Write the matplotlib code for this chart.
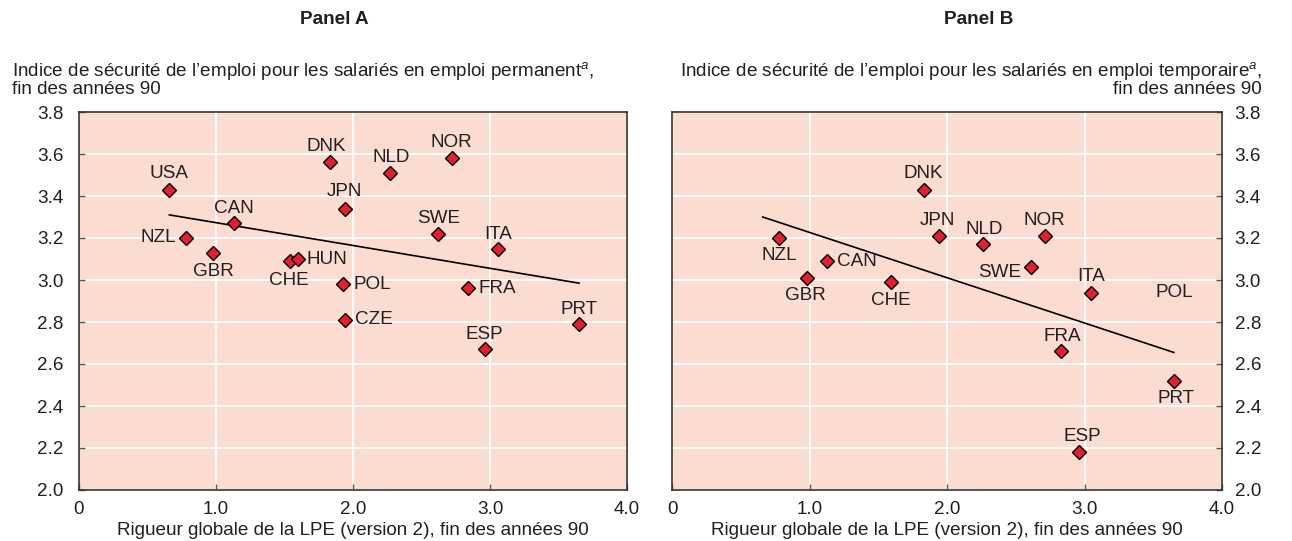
import numpy as np
import matplotlib
matplotlib.use("Agg")
import matplotlib.pyplot as plt

plt.rcParams['font.family'] = ['Liberation Sans', 'DejaVu Sans']
plt.rcParams['mathtext.fontset'] = 'custom'
plt.rcParams['mathtext.rm'] = 'Liberation Sans'
plt.rcParams['mathtext.it'] = 'Liberation Sans:italic'

# ---- data ----
countries_a = ["USA", "NZL", "GBR", "CAN", "CHE", "HUN", "DNK", "JPN", "POL",
               "CZE", "NLD", "NOR", "SWE", "ITA", "FRA", "ESP", "PRT"]
epl_a = [0.66, 0.78, 0.98, 1.13, 1.54, 1.60, 1.83, 1.94, 1.93,
         1.94, 2.27, 2.72, 2.62, 3.06, 2.84, 2.96, 3.65]
secu_a = [3.43, 3.20, 3.13, 3.27, 3.09, 3.10, 3.56, 3.34, 2.98,
          2.81, 3.51, 3.58, 3.22, 3.15, 2.96, 2.67, 2.79]
trend_a_x = [0.66, 3.65]
trend_a_y = [3.31, 2.985]

countries_b = ["NZL", "GBR", "CAN", "CHE", "DNK", "JPN", "NLD", "NOR",
               "SWE", "ITA", "FRA", "PRT", "ESP"]
epl_b = [0.78, 0.98, 1.13, 1.59, 1.83, 1.94, 2.26, 2.71,
         2.61, 3.05, 2.83, 3.65, 2.96]
secu_b = [3.20, 3.01, 3.09, 2.99, 3.43, 3.21, 3.17, 3.21,
          3.06, 2.94, 2.66, 2.52, 2.18]
trend_b_x = [0.66, 3.65]
trend_b_y = [3.30, 2.655]
pol_b_label = (3.65, 2.94)   # label shown without a marker in panel B

x_ticks = [0, 1, 2, 3, 4]
x_ticklabels = ["0", "1.0", "2.0", "3.0", "4.0"]
y_ticks = [2.0, 2.2, 2.4, 2.6, 2.8, 3.0, 3.2, 3.4, 3.6, 3.8]

# label placement (pixel offsets, ha)
up, down = (0, 16), (0, -19)
lab_a = {"USA": (up, 'center'), "NZL": ((-10, 0), 'right'), "GBR": (down, 'center'),
         "CAN": ((0, 15), 'center'), "CHE": ((-1, -19), 'center'), "HUN": ((8, 0), 'left'),
         "DNK": ((-3, 16), 'center'), "JPN": ((0, 17), 'center'), "POL": ((10, 0), 'left'),
         "CZE": ((10, 0), 'left'), "NLD": ((1, 15), 'center'), "NOR": (up, 'center'),
         "SWE": ((1, 15), 'center'), "ITA": ((0, 14), 'center'), "FRA": ((10, 0), 'left'),
         "ESP": ((0, 15), 'center'), "PRT": ((0, 15), 'center')}
lab_b = {"NZL": ((0, -18), 'center'), "GBR": ((-1, -18), 'center'), "CAN": ((10, 0), 'left'),
         "CHE": ((0, -18), 'center'), "DNK": ((0, 16), 'center'), "JPN": ((-1, 15), 'center'),
         "NLD": ((1, 15), 'center'), "NOR": ((0, 15), 'center'), "SWE": ((-10, -5), 'right'),
         "ITA": ((0, 16), 'center'), "FRA": ((1, 15), 'center'), "PRT": ((2, -18), 'center'),
         "ESP": ((3, 16), 'center')}

bg = "#FADCD1"
red = "#E3202B"
txt = "#231F20"
fs = 13.6

fig = plt.figure(figsize=(12.92, 5.41), dpi=100)
ax_a = fig.add_axes([79 / 1292, 51 / 541, 548 / 1292, 378 / 541])
ax_b = fig.add_axes([672 / 1292, 51 / 541, 550 / 1292, 378 / 541])


def draw(ax, xs, ys, names, labs, tx, ty, right=False):
    ax.set_facecolor(bg)
    ax.set_xlim(0, 4)
    ax.set_ylim(2.0, 3.8)
    ax.set_xticks(x_ticks)
    ax.set_xticklabels(x_ticklabels)
    ax.set_yticks(y_ticks)
    ax.set_yticklabels(["%.1f" % v for v in y_ticks])
    ax.grid(True, color="white", lw=1.3, zorder=0)
    ax.set_axisbelow(True)
    for s in ax.spines.values():
        s.set_color("#333333")
        s.set_linewidth(1.2)
    ax.tick_params(direction='in', length=4, width=1, color="#555555",
                   labelsize=fs, labelcolor=txt)
    ax.tick_params(axis='x', pad=8)
    if right:
        ax.yaxis.tick_right()
        ax.tick_params(axis='y', which='both', left=False, pad=9)
    else:
        ax.tick_params(axis='y', pad=11)
    ax.plot(tx, ty, color="black", lw=1.2, zorder=2)
    ax.plot(xs, ys, ls='none', marker='D', ms=7, mfc=red, mec="black",
            mew=1.0, zorder=3, clip_on=False)
    for x, y, n in zip(xs, ys, names):
        (dx, dy), ha = labs[n]
        ax.annotate(n, (x, y), xytext=(dx * 0.72, dy * 0.72), textcoords='offset points',
                    ha=ha, va='center', fontsize=fs, color=txt, zorder=4)
    ax.set_xlabel("Rigueur globale de la LPE (version 2), fin des années 90",
                  fontsize=fs, color=txt, labelpad=3)


draw(ax_a, epl_a, secu_a, countries_a, lab_a, trend_a_x, trend_a_y)
draw(ax_b, epl_b, secu_b, countries_b, lab_b, trend_b_x, trend_b_y, right=True)
ax_b.text(pol_b_label[0], pol_b_label[1], "POL", ha='center', va='center',
          fontsize=fs, color=txt)

fig.text(334 / 1292, 1 - 20 / 541, "Panel A", ha='center', va='center',
         fontsize=fs, fontweight='bold', color=txt)
fig.text(979 / 1292, 1 - 20 / 541, "Panel B", ha='center', va='center',
         fontsize=fs, fontweight='bold', color=txt)

fig.text(12 / 1292, 1 - 79 / 541,
         "Indice de sécurité de l’emploi pour les salariés en emploi permanent$^{\\mathit{a}}$,\nfin des années 90",
         ha='left', va='center', fontsize=fs, color=txt, linespacing=1.0)
fig.text(1262 / 1292, 1 - 79 / 541,
         "Indice de sécurité de l’emploi pour les salariés en emploi temporaire$^{\\mathit{a}}$,\nfin des années 90",
         ha='right', va='center', fontsize=fs, color=txt, linespacing=1.0, multialignment='right')

fig.savefig("out.png", dpi=100, facecolor="white")
